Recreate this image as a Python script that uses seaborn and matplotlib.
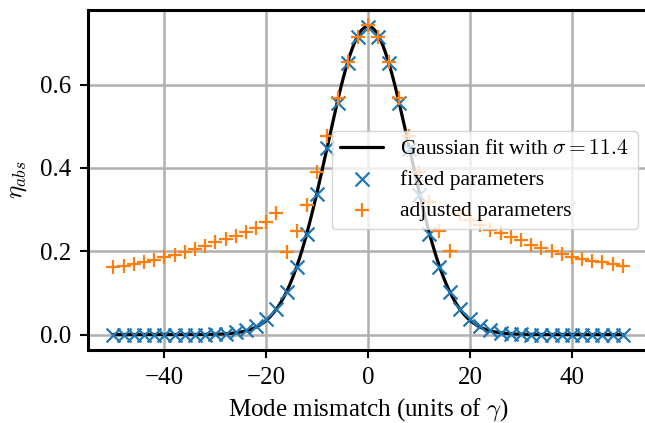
import numpy as np
import pandas as pd
import matplotlib
matplotlib.use("Agg")
import matplotlib.pyplot as plt
import seaborn as sns

# Mode mismatch values (units of gamma)
mismatch = [-50, -48, -46, -44, -42, -40, -38, -36, -34, -32, -30, -28, -26,
            -24, -22, -20, -18, -16, -14, -12, -10, -8, -6, -4, -2, 0,
            2, 4, 6, 8, 10, 12, 14, 16, 18, 20, 22, 24, 26,
            28, 30, 32, 34, 36, 38, 40, 42, 44, 46, 48, 50]

# Absorption efficiency with fixed parameters
eta_fixed = [0.000, 0.000, 0.000, 0.000, 0.000, 0.000, 0.000, 0.000, 0.000,
             0.000, 0.001, 0.002, 0.005, 0.010, 0.020, 0.037, 0.061, 0.103,
             0.163, 0.242, 0.337, 0.447, 0.555, 0.652, 0.715, 0.739,
             0.715, 0.652, 0.555, 0.446, 0.336, 0.241, 0.161, 0.103, 0.061,
             0.037, 0.020, 0.010, 0.004, 0.002, 0.001, 0.000, 0.000, 0.000,
             0.000, 0.000, 0.000, 0.000, 0.000, 0.000, 0.000]

# Absorption efficiency with adjusted parameters
eta_adjusted = [0.161, 0.165, 0.169, 0.175, 0.179, 0.185, 0.190, 0.198, 0.205,
                0.213, 0.221, 0.229, 0.237, 0.245, 0.255, 0.270, 0.292, 0.197,
                0.249, 0.312, 0.390, 0.476, 0.568, 0.655, 0.715, 0.742,
                0.715, 0.655, 0.568, 0.476, 0.390, 0.318, 0.249, 0.200, 0.290,
                0.275, 0.262, 0.250, 0.243, 0.235, 0.226, 0.215, 0.207, 0.201,
                0.194, 0.187, 0.181, 0.177, 0.173, 0.169, 0.164]

# Gaussian fit parameters
fit_amplitude = 0.74
fit_sigma = 11.4

sns.set_theme(style="ticks")
plt.rcParams.update({
    "font.family": ["Liberation Serif", "DejaVu Serif"],
    "mathtext.fontset": "cm",
    "font.size": 18,
    "axes.labelsize": 18,
    "xtick.labelsize": 18,
    "ytick.labelsize": 18,
    "legend.fontsize": 15.5,
    "axes.edgecolor": "black",
    "axes.linewidth": 2.2,
    "xtick.color": "black",
    "ytick.color": "black",
    "xtick.major.size": 5.5,
    "ytick.major.size": 5.5,
    "xtick.major.width": 1.5,
    "ytick.major.width": 1.5,
    "xtick.major.pad": 6.5,
    "ytick.major.pad": 6.5,
    "axes.labelcolor": "black",
    "text.color": "black",
})

df = pd.DataFrame({"x": mismatch, "fixed": eta_fixed, "adjusted": eta_adjusted})
x_fit = np.linspace(min(mismatch), max(mismatch), 500)
fit = pd.DataFrame({"x": x_fit,
                    "y": fit_amplitude * np.exp(-(x_fit / fit_sigma) ** 2)})

fig = plt.figure(figsize=(6.45, 4.23), dpi=100)
ax = fig.add_axes([0.1364, 0.1726, 0.8687, 0.8038])

sns.lineplot(data=fit, x="x", y="y", ax=ax, color="black", linewidth=2.3,
             label=r"Gaussian fit with $\sigma = 11.4$", zorder=3)
sns.scatterplot(data=df, x="x", y="fixed", ax=ax, marker="x", s=100,
                color="#1f77b4", linewidth=1.6, label="fixed parameters", zorder=4)
sns.scatterplot(data=df, x="x", y="adjusted", ax=ax, marker="+", s=115,
                color="#ff7f0e", linewidth=1.6, label="adjusted parameters", zorder=5)

ax.grid(True, color="#b0b0b0", linewidth=1.8)
ax.set_axisbelow(True)
ax.set_xticks([-40, -20, 0, 20, 40])
ax.set_yticks([0.0, 0.2, 0.4, 0.6])
ax.set_xlabel(r"Mode mismatch (units of $\gamma$)", labelpad=5)
ax.set_ylabel(r"$\eta_{abs}$", labelpad=8)
ax.margins(x=0.05, y=0.05)

leg = ax.legend(loc="center right", frameon=True, framealpha=0.8,
                fancybox=True)
leg.get_frame().set_edgecolor("#cccccc")

fig.savefig("out.png", dpi=100)
